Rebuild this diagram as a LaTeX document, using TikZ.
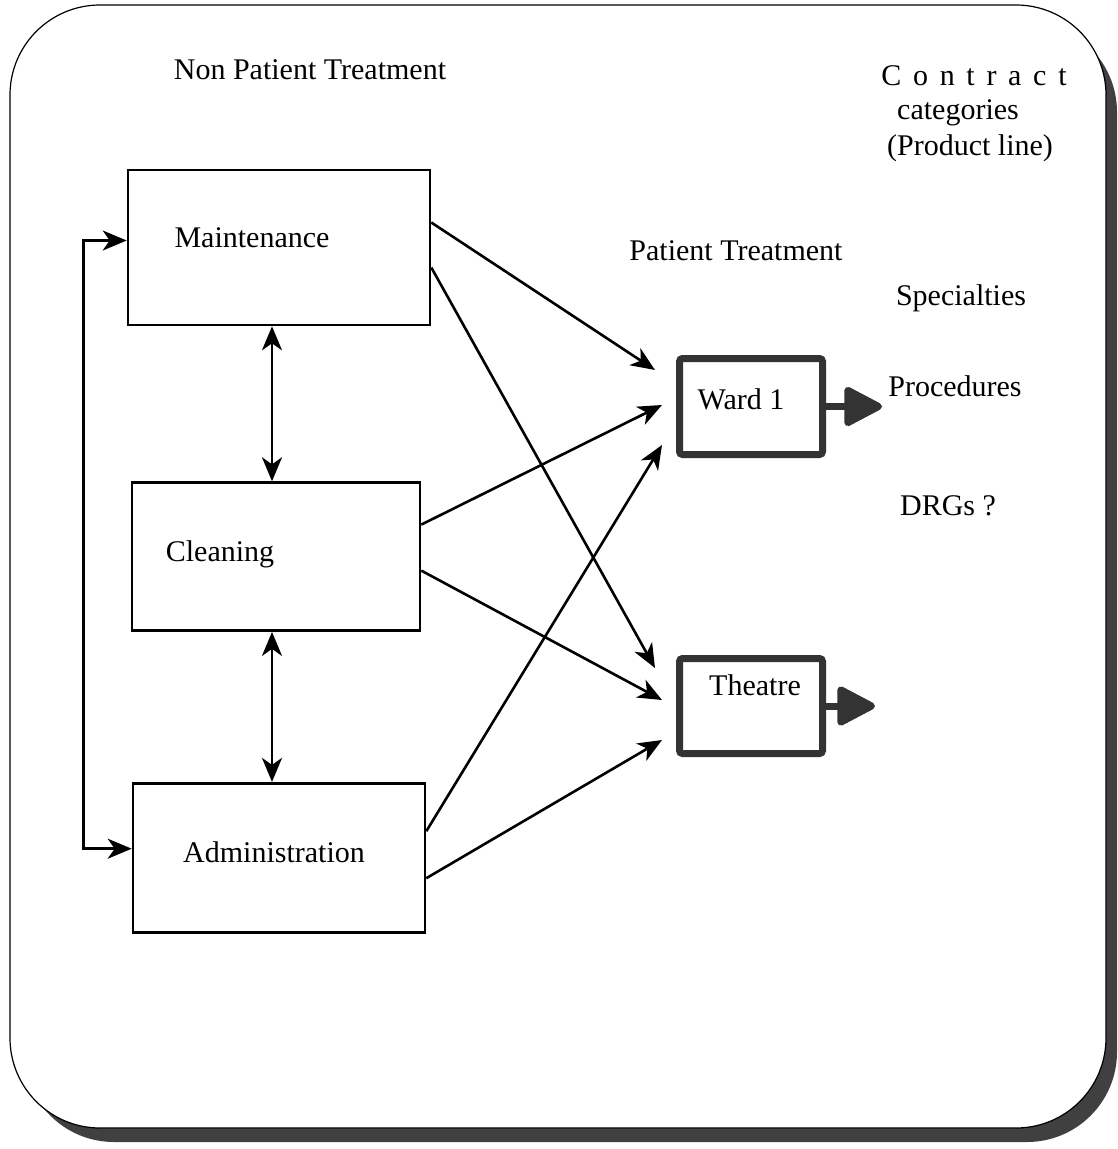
\documentclass[tikz,border=0pt]{standalone}
\usepackage{fontspec}
\setmainfont{Liberation Serif}
\usetikzlibrary{positioning,arrows.meta}

\begin{document}
\begin{tikzpicture}[x=1pt, y=-1pt, >={Stealth[length=24pt,width=20pt,inset=7pt]}, line width=2.6pt, font=\fontsize{30}{36}\selectfont]
 \useasboundingbox (0,0) rectangle (1118,1149);
 % Frame with its shadow
 \fill[black!75, rounded corners=90pt] (24,22) rectangle (1117,1142);
 \filldraw[fill=white, draw=black, line width=1.2pt, rounded corners=90pt] (10,5) rectangle (1106,1128);
 % Non patient treatment boxes, placed below one another
 \node[draw, minimum width=302pt, minimum height=155pt] (maint) at (279,247.5) {};
 \node[draw, minimum width=288pt, minimum height=148pt, below=155pt of maint, xshift=-3pt] (clean) {};
 \node[draw, minimum width=292pt, minimum height=149pt, below=150pt of clean, xshift=3pt] (admin) {};
 \node (maintT) at ([xshift=-27pt,yshift=10pt]maint.center) {Maintenance};
 \node (cleanT) at ([xshift=-56pt,yshift=2pt]clean.center) {Cleaning};
 \node (adminT) at ([xshift=-5pt,yshift=5pt]admin.center) {Administration};
 % Patient treatment boxes
 \node[draw=black!80, line width=7pt, rounded corners=3pt, minimum width=143pt, minimum height=96pt] (ward) at (751,406.5) {};
 \node[draw=black!80, line width=7pt, rounded corners=3pt, minimum width=143pt, minimum height=95pt] (theatre) at (751,706) {};
 \node (wardT) at (741,399) {Ward 1};
 \node (theatreT) at (755,685) {Theatre};
 % Outputs
 \coordinate (wardout) at (882,406.5);
 \coordinate (theatreout) at (875,706);
 \draw[black!80, line width=7pt, -{Triangle[length=42pt,width=42pt,round]}] (ward.east) -- (wardout);
 \draw[black!80, line width=7pt, -{Triangle[length=42pt,width=42pt,round]}] (theatre.east) -- (theatreout);
 % Flows into the wards
 \draw[->] ([yshift=25pt]maint.east) -- ([xshift=-21pt,yshift=36.5pt]ward.west);
 \draw[->] ([yshift=-20pt]maint.east) -- ([xshift=-21pt,yshift=38pt]theatre.west);
 \draw[->] ([yshift=32pt]clean.east) -- ([xshift=-14pt,yshift=1.5pt]ward.west);
 \draw[->] ([yshift=-14pt]clean.east) -- ([xshift=-14pt,yshift=6pt]theatre.west);
 \draw[->] ([yshift=26.5pt]admin.east) -- ([xshift=-14pt,yshift=-38.5pt]ward.west);
 \draw[->] ([yshift=-20.5pt]admin.east) -- ([xshift=-14pt,yshift=-34pt]theatre.west);
 % Links between the support services
 \draw[<->] ([xshift=-7pt]maint.south) -- ([xshift=-4pt]clean.north);
 \draw[<->] ([xshift=-4pt]clean.south) -- ([xshift=-7pt]admin.north);
 \draw[<->] ([yshift=7pt]maint.west) -- ++(-43,0) |- ([yshift=9pt]admin.west);
 % Headings
 \node (nonpt) at (310,70) {Non Patient Treatment};
 \node (contract) at (974,76) {\addfontfeature{LetterSpace=39}Contract};
 \node (categ) at (958,113) {categories};
 \node (prodline) at (970,148) {(Product line)};
 \node (pt) at (736,251) {Patient Treatment};
 \node (spec) at (961,298) {Specialties};
 \node (proc) at (955,386) {Procedures};
 \node (drg) at (948,506) {DRGs ?};
\end{tikzpicture}
\end{document}
